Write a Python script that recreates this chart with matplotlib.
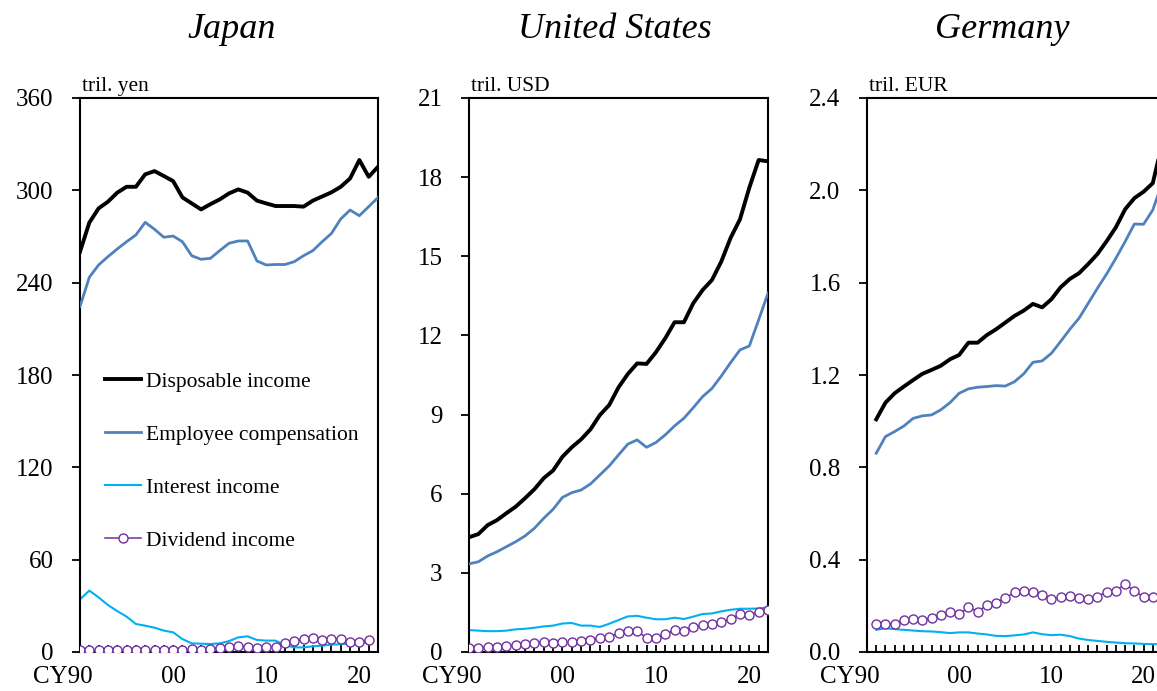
import numpy as np
import matplotlib
matplotlib.use("Agg")
import matplotlib.pyplot as plt
from matplotlib.transforms import ScaledTranslation

plt.rcParams['font.family'] = ['Liberation Serif', 'DejaVu Serif']

nan = np.nan

# ---- data ----
years = list(range(1990, 2023))
years_de = list(range(1991, 2023))

jp_disposable = [260.1, 279.0, 288.3, 292.6, 298.5, 302.3, 302.3, 310.4, 312.5, 309.3,
                 306.0, 295.4, 291.5, 287.6, 291.0, 294.1, 298.0, 300.6, 298.5, 293.3,
                 291.5, 289.8, 289.8, 289.8, 289.4, 293.3, 296.0, 298.7, 302.3, 307.7,
                 319.7, 308.8, 315.3]
jp_employee = [224.5, 243.5, 251.5, 256.9, 261.9, 266.6, 271.0, 279.2, 274.7, 269.5,
               270.3, 266.6, 257.5, 255.2, 255.8, 260.8, 265.6, 267.1, 267.1, 254.1,
               251.5, 251.8, 251.8, 253.6, 257.5, 260.8, 266.6, 272.0, 281.4, 287.2,
               283.5, 289.4, 295.3]
jp_interest = [34.2, 39.9, 35.5, 30.5, 26.6, 23.0, 18.2, 17.1, 15.8, 13.9,
               12.8, 8.4, 5.6, 5.4, 5.2, 5.6, 7.1, 9.5, 10.2, 7.8,
               7.4, 7.4, 4.5, 3.0, 3.0, 3.7, 4.1, 4.8, 5.0, 5.6,
               6.3, 6.1, nan]
jp_dividend = [1.1, 1.3, 1.1, 1.1, 1.1, 1.1, 1.3, 1.1, 1.3, 1.5,
               1.3, 1.5, 1.7, 1.5, 2.0, 2.8, 3.5, 3.9, 3.2, 2.6,
               3.0, 3.2, 5.6, 6.9, 8.2, 9.1, 7.6, 8.4, 8.4, 6.5,
               6.3, 8.0, nan]

us_disposable = [4.35, 4.47, 4.81, 5.00, 5.26, 5.51, 5.83, 6.17, 6.59, 6.88,
                 7.40, 7.76, 8.06, 8.44, 8.98, 9.36, 10.03, 10.54, 10.94, 10.92,
                 11.36, 11.89, 12.50, 12.50, 13.22, 13.72, 14.10, 14.80, 15.70, 16.40,
                 17.60, 18.65, 18.60]
us_employee = [3.34, 3.42, 3.64, 3.80, 3.99, 4.18, 4.40, 4.69, 5.07, 5.41,
               5.86, 6.04, 6.14, 6.37, 6.71, 7.05, 7.47, 7.88, 8.04, 7.76,
               7.94, 8.23, 8.57, 8.86, 9.26, 9.68, 9.99, 10.46, 10.97, 11.45,
               11.60, 12.59, 13.60]
us_interest = [0.83, 0.81, 0.79, 0.79, 0.81, 0.86, 0.88, 0.92, 0.97, 1.00,
               1.08, 1.10, 1.00, 1.00, 0.95, 1.07, 1.21, 1.35, 1.37, 1.30,
               1.24, 1.24, 1.30, 1.25, 1.34, 1.44, 1.46, 1.54, 1.60, 1.64,
               1.64, 1.65, 1.69]
us_dividend = [0.16, 0.16, 0.18, 0.20, 0.23, 0.25, 0.30, 0.35, 0.37, 0.35,
               0.39, 0.37, 0.40, 0.44, 0.54, 0.57, 0.71, 0.81, 0.79, 0.54,
               0.53, 0.68, 0.82, 0.78, 0.93, 1.02, 1.06, 1.15, 1.24, 1.44,
               1.42, 1.51, 1.60]

de_disposable = [1.008, 1.080, 1.121, 1.150, 1.178, 1.205, 1.222, 1.240, 1.268, 1.287,
                 1.340, 1.340, 1.373, 1.398, 1.427, 1.456, 1.479, 1.508, 1.493, 1.528,
                 1.580, 1.616, 1.641, 1.681, 1.724, 1.780, 1.840, 1.918, 1.966, 1.994,
                 2.031, 2.200]
de_employee = [0.861, 0.933, 0.955, 0.979, 1.012, 1.023, 1.027, 1.049, 1.080, 1.121,
               1.140, 1.147, 1.150, 1.154, 1.152, 1.171, 1.205, 1.255, 1.261, 1.294,
               1.345, 1.398, 1.446, 1.511, 1.576, 1.638, 1.706, 1.778, 1.854, 1.853,
               1.915, 2.030]
de_interest = [0.096, 0.103, 0.099, 0.096, 0.093, 0.090, 0.089, 0.086, 0.082, 0.085,
               0.085, 0.080, 0.076, 0.070, 0.069, 0.072, 0.076, 0.085, 0.077, 0.073,
               0.075, 0.069, 0.058, 0.052, 0.048, 0.044, 0.041, 0.038, 0.037, 0.035,
               0.034, 0.034]
de_dividend = [0.121, 0.121, 0.121, 0.138, 0.142, 0.138, 0.149, 0.159, 0.173, 0.163,
               0.194, 0.175, 0.203, 0.213, 0.234, 0.258, 0.265, 0.258, 0.248, 0.230,
               0.237, 0.241, 0.234, 0.231, 0.238, 0.262, 0.266, 0.293, 0.266, 0.238,
               0.238, 0.259]

xtick_years = [1990, 2000, 2010, 2020]
xtick_labels = ['CY90', '00', '10', '20']

C_DISP = 'black'
C_EMP = '#4F81BD'
C_INT = '#00B0F0'
C_DIV = '#7030A0'

fig = plt.figure(figsize=(11.57, 6.91), dpi=100)
W, H = 1157, 691

def make_axes(left_px, right_px):
    return fig.add_axes([left_px / W, (H - 652) / H, (right_px - left_px) / W, 554 / H])

panels = [
    dict(ax=make_axes(80, 378), x=years, data=(jp_disposable, jp_employee, jp_interest, jp_dividend),
         ylim=360, yticks=np.arange(0, 361, 60), fmt='{:.0f}', unit='tril. yen', title='Japan', tx=232),
    dict(ax=make_axes(469, 768), x=years, data=(us_disposable, us_employee, us_interest, us_dividend),
         ylim=21, yticks=np.arange(0, 22, 3), fmt='{:.0f}', unit='tril. USD', title='United States', tx=615),
    dict(ax=make_axes(867, 1162), x=years_de, data=(de_disposable, de_employee, de_interest, de_dividend),
         ylim=2.4, yticks=np.arange(0, 2.41, 0.4), fmt='{:.1f}', unit='tril. EUR', title='Germany', tx=1002),
]

for p in panels:
    ax = p['ax']
    disp, emp, intr, div = p['data']
    ax.plot(p['x'], intr, color=C_INT, lw=1.5, label='Interest income', zorder=2)
    ax.plot(p['x'], div, color=C_DIV, lw=1.1, marker='o', ms=6.5, mfc='white', mec=C_DIV,
            mew=1.0, label='Dividend income', zorder=3)
    ax.plot(p['x'], emp, color=C_EMP, lw=2.0, label='Employee compensation', zorder=4)
    ax.plot(p['x'], disp, color=C_DISP, lw=2.8, label='Disposable income', zorder=5)

    ax.set_xlim(1990, 2022)
    ax.set_ylim(0, p['ylim'])
    ax.set_yticks(p['yticks'])
    ax.set_yticklabels([p['fmt'].format(v) for v in p['yticks']])
    ax.set_xticks(xtick_years)
    ax.set_xticklabels(xtick_labels)
    ax.set_xticks(years, minor=True)

    for s in ax.spines.values():
        s.set_linewidth(1.5)
    ax.tick_params(axis='y', direction='out', length=6, width=1.3, pad=13, labelsize=18)
    ax.tick_params(axis='x', which='both', direction='in', length=5, width=1.3, pad=10, labelsize=18)

    # first label "CY90" sits left of its tick
    lab = ax.get_xticklabels()[0]
    lab.set_transform(lab.get_transform() + ScaledTranslation(-17 / 100, 0, fig.dpi_scale_trans))

    ax.text(0.006, 1.004, p['unit'], transform=ax.transAxes, fontsize=15.5, ha='left', va='bottom')
    fig.text(p['tx'] / W, 1 - 29 / H, p['title'], fontsize=26, style='italic', ha='center', va='center')

# legend in the Japan panel
ax0 = panels[0]['ax']
h, l = ax0.get_legend_handles_labels()
order = [3, 2, 0, 1]
ax0.legend([h[i] for i in order], [l[i] for i in order], loc='upper left',
           bbox_to_anchor=(0.083, 0.506), frameon=False, fontsize=15.5,
           handlelength=1.7, handletextpad=0.23, labelspacing=1.53,
           borderpad=0, borderaxespad=0)

fig.savefig('out.png', dpi=100)
